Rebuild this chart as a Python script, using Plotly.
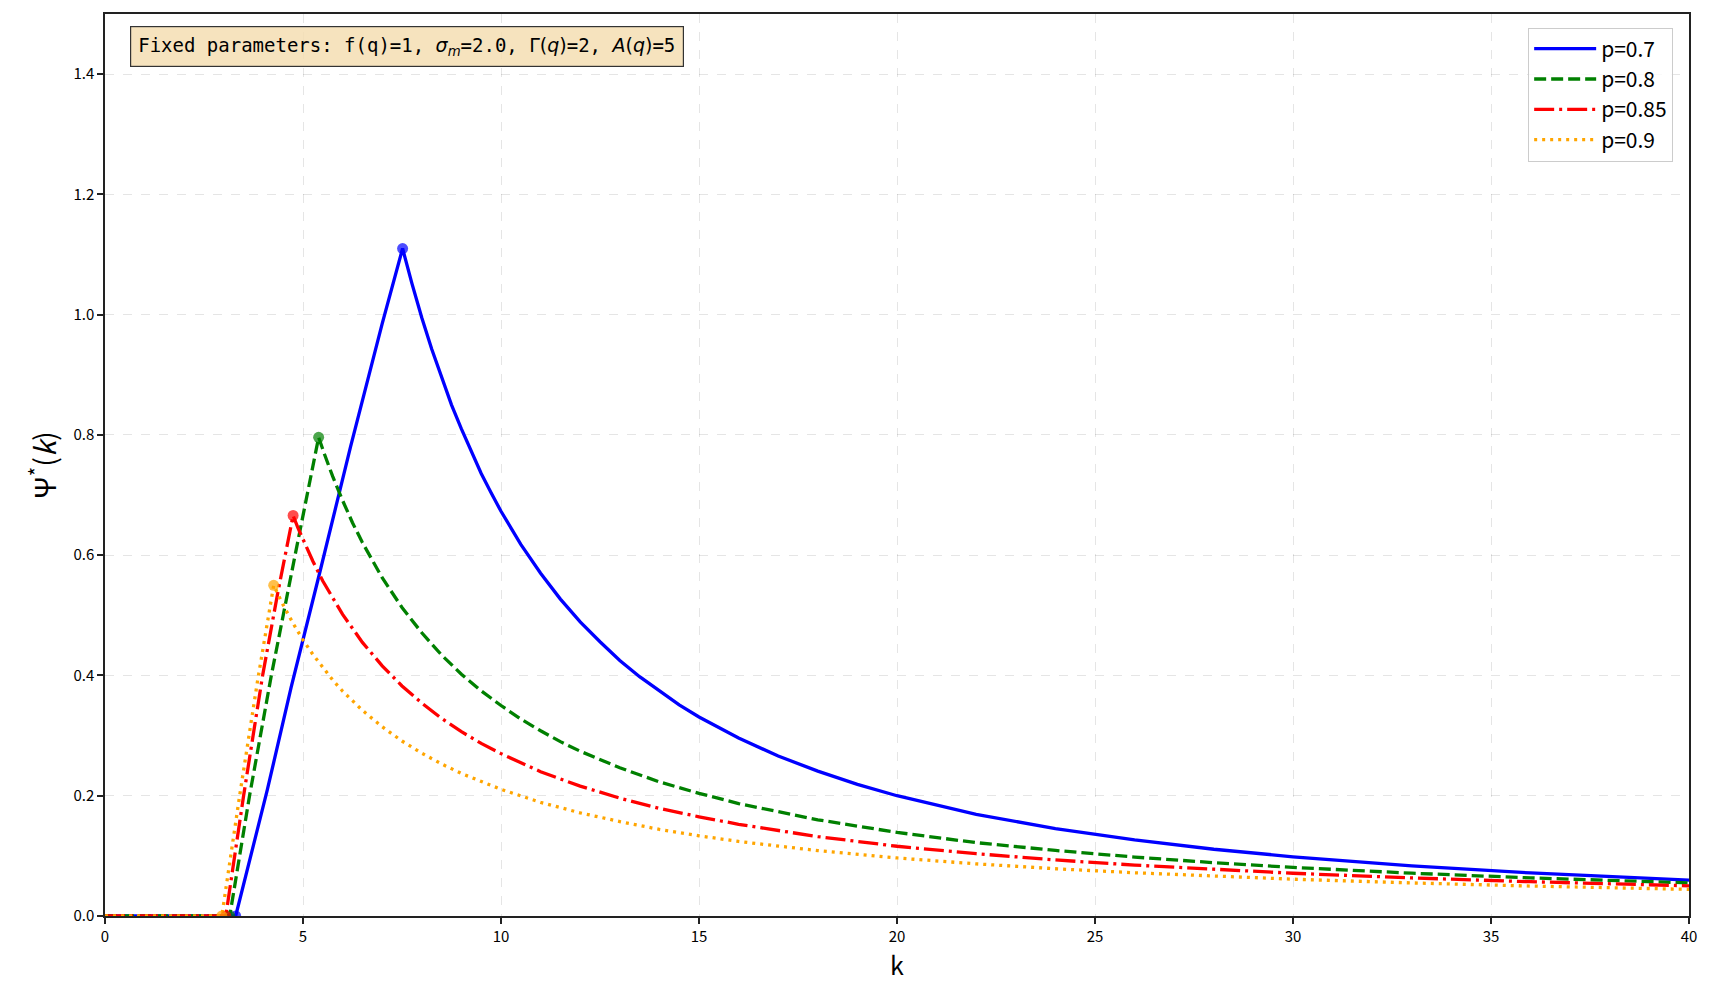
import plotly.graph_objects as go

# p = 0.7
k_07 = [0, 3.3, 4.1, 4.7, 5.4, 6.2, 7.0, 7.515, 7.75, 8.0, 8.25, 8.5, 8.75, 9.0, 9.25, 9.5,
        9.75, 10, 10.5, 11, 11.5, 12, 12.5, 13, 13.5, 14, 14.5, 15, 16, 17, 18, 19, 20, 22,
        24, 26, 28, 30, 33, 36, 40]
psi_07 = [0, 0, 0.21, 0.38, 0.565, 0.78, 0.985, 1.11, 1.052, 0.995, 0.943, 0.895, 0.850, 0.810,
          0.772, 0.736, 0.704, 0.673, 0.618, 0.570, 0.527, 0.489, 0.456, 0.425, 0.398, 0.374,
          0.351, 0.331, 0.296, 0.266, 0.241, 0.219, 0.200, 0.169, 0.1455, 0.1265, 0.111,
          0.0985, 0.0834, 0.0716, 0.0595]

# p = 0.8
k_08 = [0, 3.15, 3.65, 4.2, 4.8, 5.395, 5.55, 5.75, 6.0, 6.25, 6.5, 6.75, 7.0, 7.5, 8, 8.5,
        9, 9.5, 10, 10.5, 11, 11.5, 12, 13, 14, 15, 16, 18, 20, 22, 24, 26, 28, 30, 33, 36, 40]
psi_08 = [0, 0, 0.2, 0.4, 0.6, 0.796, 0.7665, 0.731, 0.691, 0.654, 0.621, 0.5905, 0.5625,
          0.513, 0.471, 0.434, 0.402, 0.3745, 0.350, 0.3276, 0.308, 0.290, 0.274, 0.2465,
          0.223, 0.204, 0.187, 0.160, 0.139, 0.122, 0.109, 0.098, 0.0887, 0.0808, 0.0712,
          0.0634, 0.0551]

# p = 0.85
k_085 = [0, 3.05, 3.5, 3.98, 4.37, 4.75, 4.875, 5.0, 5.25, 5.5, 5.75, 6.0, 6.5, 7.0, 7.5, 8,
         8.5, 9, 9.5, 10, 11, 12, 13, 14, 15, 16, 18, 20, 22, 24, 26, 28, 30, 33, 36, 40]
psi_085 = [0, 0, 0.2, 0.4, 0.54, 0.666, 0.645, 0.626, 0.590, 0.557, 0.528, 0.5016, 0.455,
           0.416, 0.3826, 0.354, 0.3286, 0.3066, 0.287, 0.270, 0.240, 0.216, 0.196, 0.179,
           0.165, 0.1525, 0.132, 0.116, 0.1036, 0.0932, 0.0846, 0.0773, 0.0711, 0.0633,
           0.0570, 0.0502]

# p = 0.9
k_09 = [0, 2.95, 3.4, 3.85, 4.26, 4.375, 4.5, 4.75, 5.0, 5.25, 5.5, 5.75, 6.0, 6.5, 7.0, 7.5,
        8, 8.5, 9, 9.5, 10, 11, 12, 13, 14, 15, 16, 18, 20, 22, 24, 26, 28, 30, 33, 36, 40]
psi_09 = [0, 0, 0.2, 0.39, 0.55, 0.534, 0.517, 0.4866, 0.459, 0.4348, 0.4126, 0.3925, 0.374,
          0.342, 0.3146, 0.291, 0.2707, 0.2528, 0.237, 0.2231, 0.2106, 0.189, 0.1715, 0.157,
          0.144, 0.1334, 0.124, 0.1087, 0.0965, 0.0867, 0.0786, 0.0719, 0.0661, 0.0612,
          0.0550, 0.0498, 0.0443]

labels = ["p=0.7", "p=0.8", "p=0.85", "p=0.9"]
start_k = [3.3, 3.15, 3.05, 2.95]
peak_k = [7.515, 5.395, 4.75, 4.26]
peak_psi = [1.11, 0.796, 0.666, 0.55]

colors = ["blue", "green", "red", "orange"]
dashes = ["solid", "12px,5px", "20px,5px,3px,5px", "3px,5px"]
series = [(k_07, psi_07), (k_08, psi_08), (k_085, psi_085), (k_09, psi_09)]

fig = go.Figure()

for i, (kk, pp) in enumerate(series):
    fig.add_trace(go.Scatter(
        x=kk, y=pp, mode="lines", name=labels[i],
        line=dict(color=colors[i], width=3.3, dash=dashes[i]),
    ))

# start and peak markers
for i in range(4):
    fig.add_trace(go.Scatter(
        x=[start_k[i], peak_k[i]], y=[0, peak_psi[i]], mode="markers",
        marker=dict(size=11, color=colors[i], opacity=0.7),
        showlegend=False, hoverinfo="skip",
    ))

axis_style = dict(
    showline=True, linecolor="#222", linewidth=1.5, mirror=True,
    ticks="outside", ticklen=6, tickwidth=1.5, tickcolor="#222",
    showgrid=True, gridcolor="rgba(0,0,0,0.1)", griddash="dash", gridwidth=1,
    zeroline=False, tickfont=dict(size=15, color="black"),
)

fig.update_xaxes(range=[0, 40], dtick=5, title=dict(text="k", font=dict(size=25), standoff=6),
                 **axis_style)
fig.update_yaxes(range=[0, 1.5], tickvals=[0, 0.2, 0.4, 0.6, 0.8, 1.0, 1.2, 1.4],
                 tickformat=".1f",
                 title=dict(text="Ψ<sup>*</sup>(<i>k</i>)", font=dict(size=29), standoff=8),
                 **axis_style)

fig.add_annotation(
    xref="paper", yref="paper", x=0.016, y=0.987, xanchor="left", yanchor="top",
    showarrow=False, align="left",
    text=("Fixed parameters: f(q)=1, "
          "<span style='font-family:DejaVu Sans'><i>σ</i><sub><i>m</i></sub></span>=2.0, "
          "<span style='font-family:DejaVu Sans'>Γ(<i>q</i>)</span>=2, "
          "<span style='font-family:DejaVu Sans'><i>A</i>(<i>q</i>)</span>=5"),
    font=dict(family="DejaVu Sans Mono", size=19, color="black"),
    bgcolor="rgba(245,222,179,0.85)", bordercolor="#333", borderwidth=1.2, borderpad=7,
)

fig.update_layout(
    width=1713, height=993,
    margin=dict(l=105, r=24, t=14, b=77),
    paper_bgcolor="white", plot_bgcolor="white",
    font=dict(family="Noto Sans CJK SC, DejaVu Sans, sans-serif", color="black"),
    legend=dict(x=0.99, y=0.985, xanchor="right", yanchor="top",
                bgcolor="rgba(255,255,255,0.8)", bordercolor="#ccc", borderwidth=1,
                font=dict(size=21), itemwidth=62),
)

fig.write_html("out.html", config={"displayModeBar": False},
               post_script="document.body.style.margin='0px';")
